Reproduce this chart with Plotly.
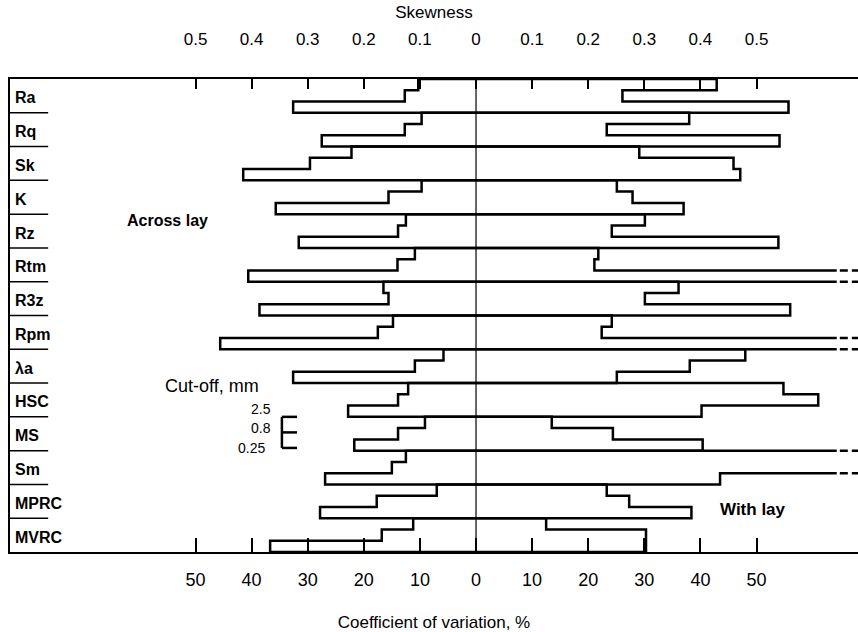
import plotly.graph_objects as go

# ---------------- data ----------------
rows = ["Ra", "Rq", "Sk", "K", "Rz", "Rtm", "R3z", "Rpm", "λa", "HSC", "MS", "Sm", "MPRC", "MVRC"]

# Across lay (left side), coefficient of variation %, per cut-off
across_25 = [10.3, 9.7, 22.2, 9.7, 12.5, 10.9, 16.5, 14.8, 5.8, 12.1, 9.1, 12.5, 7.0, 11.2]
across_08 = [12.7, 12.7, 29.6, 15.6, 13.9, 14.0, 15.6, 17.5, 10.9, 13.9, 13.9, 15.0, 17.7, 16.8]
across_025 = [32.6, 27.5, 41.5, 35.7, 31.6, 40.6, 38.6, 45.6, 32.6, 22.8, 21.7, 26.9, 27.8, 36.7]

# With lay (right side); None = off scale
with_25 = [42.9, 38.0, 29.1, 25.1, 30.1, 21.8, 36.1, 24.2, 48.0, 54.8, 13.5, None, 23.3, 12.5]
with_08 = [26.1, 23.3, 45.9, 27.9, 24.2, 21.1, 30.1, 22.4, 38.1, 61.0, 24.4, None, 27.3, 30.3]
with_025 = [55.7, 54.1, 47.1, 37.0, 53.9, None, 56.0, None, 25.1, 40.2, 40.4, 43.5, 38.4, 30.3]

cv_ticks = [-50, -40, -30, -20, -10, 0, 10, 20, 30, 40, 50]
cv_labels = ["50", "40", "30", "20", "10", "0", "10", "20", "30", "40", "50"]
skew_labels = ["0.5", "0.4", "0.3", "0.2", "0.1", "0", "0.1", "0.2", "0.3", "0.4", "0.5"]
cutoffs = ["2.5", "0.8", "0.25"]

# ---------------- figure ----------------
X0, X1 = -83.07, 68.09
TR = 64.3        # solid end of off-scale bars
DASH0, DASH1 = 64.85, 69.0
N = len(rows)
FONT = "Liberation Sans, Arial, sans-serif"

fig = go.Figure()
bar_line = dict(color="black", width=2.5)

for i in range(N):
    levels = [i + k / 3 for k in range(4)]
    sides = ((-1, (across_25[i], across_08[i], across_025[i])),
             (1, (with_25[i], with_08[i], with_025[i])))
    for sign, vals in sides:
        xs, ys = [0], [levels[0]]
        for k, v in enumerate(vals):
            if v is None:
                xs += [sign * TR, None, sign * TR]
                ys += [levels[k], None, levels[k + 1]]
            else:
                xs += [sign * v, sign * v]
                ys += [levels[k], levels[k + 1]]
        xs.append(0)
        ys.append(levels[3])
        fig.add_trace(go.Scatter(x=xs, y=ys, mode="lines", line=bar_line,
                                 connectgaps=False, hoverinfo="skip", showlegend=False))
        ext = [0] + list(vals) + [0]
        for k in range(4):
            if (ext[k] is None) != (ext[k + 1] is None):
                fig.add_trace(go.Scatter(x=[sign * DASH0, sign * DASH1], y=[levels[k]] * 2,
                                         mode="lines",
                                         line=dict(color="black", width=2.5, dash="8px,4px"),
                                         hoverinfo="skip", showlegend=False))

# centre line (on the top axis so that axis is drawn)
fig.add_trace(go.Scatter(x=[0, 0], y=[0, N], xaxis="x2", mode="lines",
                         line=dict(color="black", width=1.2), hoverinfo="skip", showlegend=False))

annotations = []
shapes = []
for i, name in enumerate(rows):
    annotations.append(dict(x=0.004, xref="paper", y=i + 0.56, yref="y", text="<b>" + name + "</b>",
                            showarrow=False, xanchor="left", yanchor="middle",
                            font=dict(size=16, family=FONT, color="black")))
    if i < N - 1:
        shapes.append(dict(type="line", xref="paper", yref="y", x0=0, x1=0.045,
                           y0=i + 1, y1=i + 1, line=dict(color="black", width=1.5)))

annotations += [
    dict(x=-62.6, y=4.2, xref="x", yref="y", text="<b>Across lay</b>", showarrow=False,
         xanchor="left", yanchor="middle", font=dict(size=16, family=FONT, color="black")),
    dict(x=-55.8, y=9.1, xref="x", yref="y", text="Cut-off, mm", showarrow=False,
         xanchor="left", yanchor="middle", font=dict(size=18, family=FONT, color="black")),
    dict(x=-36.4, y=9.76, xref="x", yref="y", text=cutoffs[0], showarrow=False,
         xanchor="right", yanchor="middle", borderpad=0,
         font=dict(size=14, family=FONT, color="black")),
    dict(x=-36.4, y=10.34, xref="x", yref="y", text=cutoffs[1], showarrow=False,
         xanchor="right", yanchor="middle", borderpad=0,
         font=dict(size=14, family=FONT, color="black")),
    dict(x=-37.4, y=10.92, xref="x", yref="y", text=cutoffs[2], showarrow=False,
         xanchor="right", yanchor="middle", borderpad=0,
         font=dict(size=14, family=FONT, color="black")),
    dict(x=43.1, y=12.75, xref="x", yref="y", text="<b>With lay</b>", showarrow=False,
         xanchor="left", yanchor="middle", font=dict(size=17, family=FONT, color="black")),
]

# cut-off bracket "E"
for y0, y1, xa, xb in [(10.0, 10.92, -34.6, -34.6), (10.0, 10.0, -34.6, -31.9),
                       (10.46, 10.46, -34.6, -31.9), (10.92, 10.92, -34.6, -31.9)]:
    shapes.append(dict(type="line", xref="x", yref="y", x0=xa, x1=xb, y0=y0, y1=y1,
                       line=dict(color="black", width=2.5)))

fig.update_layout(
    width=858, height=632,
    margin=dict(l=10, r=0, t=79, b=80),
    paper_bgcolor="white", plot_bgcolor="white",
    font=dict(family=FONT, color="black"),
    showlegend=False,
    xaxis=dict(range=[X0, X1], tickvals=cv_ticks, ticktext=cv_labels, ticks="inside",
               ticklen=14, tickwidth=1.5, tickcolor="black", showline=True,
               linecolor="black", linewidth=2, showgrid=False, zeroline=False,
               tickfont=dict(size=18), ticklabelstandoff=10,
               title=dict(text="Coefficient of variation, %", font=dict(size=17), standoff=28)),
    xaxis2=dict(range=[X0, X1], overlaying="x", side="top", anchor="y",
                tickvals=cv_ticks, ticktext=skew_labels, ticks="inside", ticklen=10,
                tickwidth=1.5, tickcolor="black", showline=True, linecolor="black",
                linewidth=2, showgrid=False, zeroline=False, tickfont=dict(size=17),
                ticklabelstandoff=25,
                title=dict(text="Skewness", font=dict(size=17), standoff=7)),
    yaxis=dict(range=[N, 0], showline=True, linecolor="black", linewidth=2,
               showticklabels=False, ticks="", showgrid=False, zeroline=False),
    annotations=annotations,
    shapes=shapes,
)

fig.write_html("out.html")
